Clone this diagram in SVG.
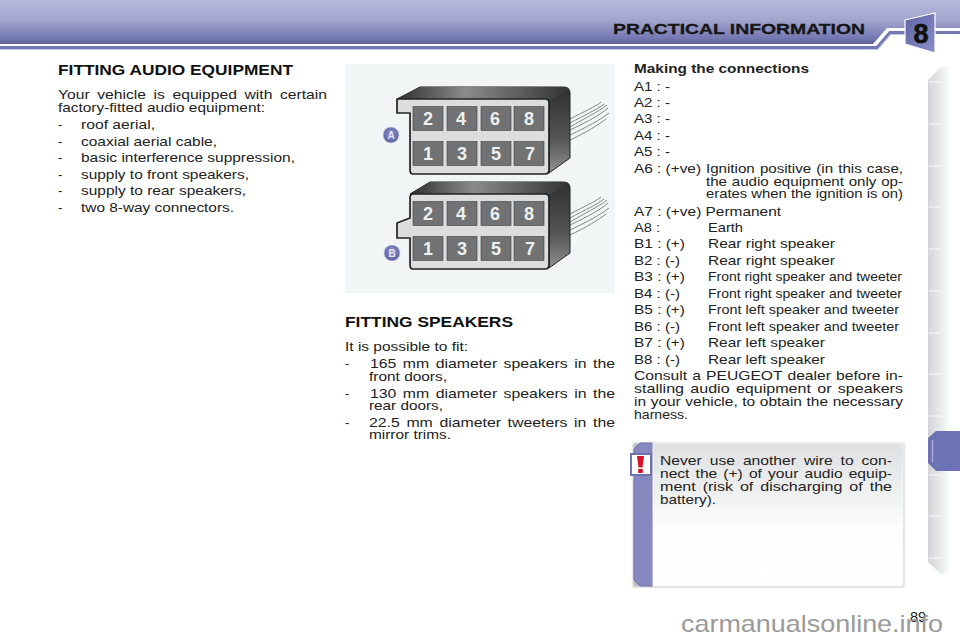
<svg xmlns="http://www.w3.org/2000/svg" width="960" height="640" viewBox="0 0 960 640">
<defs>
<linearGradient id="hdr" gradientUnits="userSpaceOnUse" x1="0" y1="0" x2="0" y2="45"><stop offset="0" stop-color="#b6b9dc"/><stop offset=".45" stop-color="#a2a5cd"/><stop offset=".85" stop-color="#7478b2"/><stop offset="1" stop-color="#5c6098"/></linearGradient>
<linearGradient id="eight" x1="0" y1="0" x2="1" y2="1"><stop offset="0" stop-color="#5f64a6"/><stop offset="1" stop-color="#8a8ec6"/></linearGradient>
<linearGradient id="tab" x1="0" y1="0" x2="1" y2="0"><stop offset="0" stop-color="#d2d4d6"/><stop offset=".35" stop-color="#e6e7e8"/><stop offset=".7" stop-color="#ffffff"/></linearGradient>
<linearGradient id="note" x1="0" y1="0" x2="0" y2="1"><stop offset="0" stop-color="#dfe0e2"/><stop offset=".35" stop-color="#eff0f0"/><stop offset=".6" stop-color="#fdfdfd"/><stop offset="1" stop-color="#ffffff"/></linearGradient>
<linearGradient id="top" x1="0" y1="0" x2="1" y2="0"><stop offset="0" stop-color="#2e2e2e"/><stop offset=".4" stop-color="#8a8c8c"/><stop offset="1" stop-color="#333"/></linearGradient>
<linearGradient id="side" x1="0" y1="0" x2="0" y2="1"><stop offset="0" stop-color="#2f2f2f"/><stop offset=".6" stop-color="#555"/><stop offset="1" stop-color="#8f9090"/></linearGradient>
<radialGradient id="ball" cx=".5" cy=".4" r=".6"><stop offset="0" stop-color="#8a8ec6"/><stop offset="1" stop-color="#5d62a4"/></radialGradient>
<filter id="soft" x="-10%" y="-10%" width="120%" height="120%"><feGaussianBlur stdDeviation="1.2"/></filter>
<g id="pins">
<rect class="pin" x="0" y="0" width="30" height="24"/><rect class="pin" x="34" y="0" width="30" height="24"/><rect class="pin" x="68" y="0" width="30" height="24"/><rect class="pin" x="101" y="0" width="30" height="24"/>
<rect class="pin" x="0" y="35" width="30" height="24"/><rect class="pin" x="34" y="35" width="30" height="24"/><rect class="pin" x="68" y="35" width="30" height="24"/><rect class="pin" x="101" y="35" width="30" height="24"/>
<text class="d" x="15" y="18">2</text><text class="d" x="48" y="18">4</text><text class="d" x="82" y="18">6</text><text class="d" x="116" y="18">8</text>
<text class="d" x="15" y="53">1</text><text class="d" x="49" y="53">3</text><text class="d" x="83" y="53">5</text><text class="d" x="117" y="53">7</text>
</g>
</defs>
<style>
text{font-family:"Liberation Sans",Arial,Helvetica,sans-serif;fill:#1c1c1c}
.b{font-size:13px;fill:#222}
.h{font-size:15px;font-weight:700;fill:#111}
.d{font-size:18px;font-weight:700;fill:#eef0ee;text-anchor:middle}
.ball{font-size:10px;font-weight:700;text-anchor:middle;fill:#e4e6f6}
.pin{fill:#707273;stroke:#3c3f40;stroke-width:.6}
.body{fill:#dcdddf;stroke:#222;stroke-width:1.7;stroke-linejoin:round}
.wire{fill:none;stroke:#777a7a;stroke-width:.9}
.tick{stroke:#fafafa;stroke-width:1}
</style>

<rect width="960" height="640" fill="#fff"/>

<g id="header">
<path d="M0 0 H960 V28 H887 L873 44 H0 Z" fill="url(#hdr)"/>
<path d="M0 47.500 H877 L890 32.500 H960" stroke="#7377b4" stroke-width="3" fill="none"/>
<path d="M0 49.500 H878 L891 34.500 H905" stroke="#c3c5e2" stroke-width="1" fill="none"/>
<path d="M905 20 L935 13 L935 53 L905 44 Z" fill="url(#eight)" stroke="#fff" stroke-width="1.200"/>
<text x="613" y="34" font-size="15.500" font-weight="700" style="fill:#161616;stroke:#161616;stroke-width:.3" textLength="252" lengthAdjust="spacingAndGlyphs">PRACTICAL INFORMATION</text>
<text x="921" y="43" font-size="27" font-weight="700" text-anchor="middle" style="fill:#111;stroke:#111;stroke-width:.6">8</text>
</g>

<g id="side-tabs">
<path d="M960 67 L941 67 L928 80 L928 562 L941 574 L960 574 Z" fill="url(#tab)"/>
<path class="tick" d="M929 82H941M929 124H941M929 166H941M929 207H941M929 249H941M929 291H941M929 333H941M929 374H941M929 416H941M929 475H941M929 516H941M929 558H941"/>
<path d="M960 431 L936 431 L928 438 L928 463 L936 471 L960 471 Z" fill="#6d72b4"/>
<path d="M932.500 440 L932.500 462" stroke="#a6a9d6" stroke-width="1.500"/>
</g>

<g id="audio-text">
<text class="h" x="58" y="75" textLength="235" lengthAdjust="spacingAndGlyphs">FITTING AUDIO EQUIPMENT</text>
<text class="b" x="58" y="99" word-spacing="2.700" textLength="269" lengthAdjust="spacingAndGlyphs">Your vehicle is equipped with certain</text>
<text class="b" x="58" y="112" textLength="207" lengthAdjust="spacingAndGlyphs">factory-fitted audio equipment:</text>
<text class="b" x="58" y="129">-</text><text class="b" x="81" y="129" textLength="74" lengthAdjust="spacingAndGlyphs">roof aerial,</text>
<text class="b" x="58" y="146">-</text><text class="b" x="81" y="146" textLength="136" lengthAdjust="spacingAndGlyphs">coaxial aerial cable,</text>
<text class="b" x="58" y="162">-</text><text class="b" x="81" y="162" textLength="214" lengthAdjust="spacingAndGlyphs">basic interference suppression,</text>
<text class="b" x="58" y="179">-</text><text class="b" x="81" y="179" textLength="168" lengthAdjust="spacingAndGlyphs">supply to front speakers,</text>
<text class="b" x="58" y="195">-</text><text class="b" x="81" y="195" textLength="165" lengthAdjust="spacingAndGlyphs">supply to rear speakers,</text>
<text class="b" x="58" y="212">-</text><text class="b" x="81" y="212" textLength="153" lengthAdjust="spacingAndGlyphs">two 8-way connectors.</text>
</g>

<g id="connector-figure">
<rect x="345" y="64" width="270" height="229" fill="#f2f5f5"/>
<g id="connector-A">
<path class="wire" d="M570 119C585 111 595 107 601 102M570 123C585 115 596 110 604 104M570 127C585 118 598 112 607 105M570 130C587 122 600 115 608 108M570 135C587 127 600 120 609 113M570 140C587 132 598 125 606 119"/>
<path d="M397 99 L420 87 L563 87 Q570 87 570 93 L570 158 L549 173 L549 99 Z" fill="url(#side)" stroke="#222"/>
<path d="M397 99 L420 87 L563 87 Q570 87 568 90 L549 100 L397 100 Z" fill="url(#top)"/>
<path class="body" d="M397 99 L545 99 Q549 99 549 103 L549 170 Q549 174 545 174 L413 174 Q410 174 410 170 L410 113 L397 113 Z"/>
<use href="#pins" x="413" y="106.500"/>
<circle cx="391" cy="135" r="8" fill="url(#ball)" stroke="#c9cbe6" stroke-width=".8"/>
<text class="ball" x="391" y="139">A</text>
</g>
<g id="connector-B">
<path class="wire" d="M570 214C585 206 595 202 601 197M570 218C585 210 596 205 604 199M570 222C585 213 598 207 607 200M570 225C587 217 600 210 608 203M570 230C587 222 600 215 609 208M570 235C587 227 598 220 606 214"/>
<path d="M410 194 L430 182 L563 182 Q570 182 570 188 L570 253 L549 268 L549 194 Z" fill="url(#side)" stroke="#222"/>
<path d="M410 194 L430 182 L563 182 Q570 182 568 185 L549 195 L410 195 Z" fill="url(#top)"/>
<path class="body" d="M413 194 L545 194 Q549 194 549 198 L549 265 Q549 269 545 269 L413 269 Q410 269 410 265 L410 238 L397 238 L397 223 L410 218 L410 198 Q410 194 413 194 Z"/>
<use href="#pins" x="413" y="201.500"/>
<circle cx="392" cy="253" r="8" fill="url(#ball)" stroke="#c9cbe6" stroke-width=".8"/>
<text class="ball" x="392" y="257">B</text>
</g>
</g>

<g id="speakers-text">
<text class="h" x="345" y="327" textLength="168" lengthAdjust="spacingAndGlyphs">FITTING SPEAKERS</text>
<text class="b" x="345" y="351" textLength="123" lengthAdjust="spacingAndGlyphs">It is possible to fit:</text>
<text class="b" x="345" y="368">-</text><text class="b" x="370" y="368" word-spacing="1.700" textLength="245" lengthAdjust="spacingAndGlyphs">165 mm diameter speakers in the</text>
<text class="b" x="369" y="381" textLength="78" lengthAdjust="spacingAndGlyphs">front doors,</text>
<text class="b" x="345" y="398">-</text><text class="b" x="370" y="398" word-spacing="1.700" textLength="245" lengthAdjust="spacingAndGlyphs">130 mm diameter speakers in the</text>
<text class="b" x="369" y="410" textLength="74" lengthAdjust="spacingAndGlyphs">rear doors,</text>
<text class="b" x="345" y="427">-</text><text class="b" x="369" y="427" word-spacing="1.800" textLength="246" lengthAdjust="spacingAndGlyphs">22.5 mm diameter tweeters in the</text>
<text class="b" x="369" y="439" textLength="82" lengthAdjust="spacingAndGlyphs">mirror trims.</text>
</g>

<g id="connections-text">
<text class="b" x="634" y="73" font-weight="700" textLength="175" lengthAdjust="spacingAndGlyphs">Making the connections</text>
<text class="b" x="634" y="91" textLength="36" lengthAdjust="spacingAndGlyphs">A1 : -</text>
<text class="b" x="634" y="107" textLength="36" lengthAdjust="spacingAndGlyphs">A2 : -</text>
<text class="b" x="634" y="123" textLength="36" lengthAdjust="spacingAndGlyphs">A3 : -</text>
<text class="b" x="634" y="140" textLength="36" lengthAdjust="spacingAndGlyphs">A4 : -</text>
<text class="b" x="634" y="156" textLength="36" lengthAdjust="spacingAndGlyphs">A5 : -</text>
<text class="b" x="634" y="173" textLength="67" lengthAdjust="spacingAndGlyphs">A6 : (+ve)</text><text class="b" x="706" y="173" word-spacing=".800" textLength="197" lengthAdjust="spacingAndGlyphs">Ignition positive (in this case,</text>
<text class="b" x="706" y="186" word-spacing=".500" textLength="197" lengthAdjust="spacingAndGlyphs">the audio equipment only op-</text>
<text class="b" x="706" y="198" textLength="197" lengthAdjust="spacingAndGlyphs">erates when the ignition is on)</text>
<text class="b" x="634" y="216" textLength="147" lengthAdjust="spacingAndGlyphs">A7 : (+ve) Permanent</text>
<text class="b" x="634" y="232" textLength="26" lengthAdjust="spacingAndGlyphs">A8 :</text><text class="b" x="708" y="232" textLength="35" lengthAdjust="spacingAndGlyphs">Earth</text>
<text class="b" x="634" y="248" textLength="51" lengthAdjust="spacingAndGlyphs">B1 : (+)</text><text class="b" x="708" y="248" textLength="127" lengthAdjust="spacingAndGlyphs">Rear right speaker</text>
<text class="b" x="634" y="265" textLength="46" lengthAdjust="spacingAndGlyphs">B2 : (-)</text><text class="b" x="708" y="265" textLength="127" lengthAdjust="spacingAndGlyphs">Rear right speaker</text>
<text class="b" x="634" y="281" textLength="51" lengthAdjust="spacingAndGlyphs">B3 : (+)</text><text class="b" x="708" y="281" textLength="194" lengthAdjust="spacingAndGlyphs">Front right speaker and tweeter</text>
<text class="b" x="634" y="298" textLength="46" lengthAdjust="spacingAndGlyphs">B4 : (-)</text><text class="b" x="708" y="298" textLength="194" lengthAdjust="spacingAndGlyphs">Front right speaker and tweeter</text>
<text class="b" x="634" y="314" textLength="51" lengthAdjust="spacingAndGlyphs">B5 : (+)</text><text class="b" x="708" y="314" textLength="191" lengthAdjust="spacingAndGlyphs">Front left speaker and tweeter</text>
<text class="b" x="634" y="331" textLength="46" lengthAdjust="spacingAndGlyphs">B6 : (-)</text><text class="b" x="708" y="331" textLength="191" lengthAdjust="spacingAndGlyphs">Front left speaker and tweeter</text>
<text class="b" x="634" y="347" textLength="51" lengthAdjust="spacingAndGlyphs">B7 : (+)</text><text class="b" x="708" y="347" textLength="117" lengthAdjust="spacingAndGlyphs">Rear left speaker</text>
<text class="b" x="634" y="364" textLength="46" lengthAdjust="spacingAndGlyphs">B8 : (-)</text><text class="b" x="708" y="364" textLength="117" lengthAdjust="spacingAndGlyphs">Rear left speaker</text>
<text class="b" x="634" y="380" word-spacing=".700" textLength="269" lengthAdjust="spacingAndGlyphs">Consult a PEUGEOT dealer before in-</text>
<text class="b" x="634" y="393" word-spacing="1.500" textLength="269" lengthAdjust="spacingAndGlyphs">stalling audio equipment or speakers</text>
<text class="b" x="634" y="406" word-spacing=".300" textLength="269" lengthAdjust="spacingAndGlyphs">in your vehicle, to obtain the necessary</text>
<text class="b" x="634" y="419" textLength="54" lengthAdjust="spacingAndGlyphs">harness.</text>
</g>

<g id="warning-note">
<rect x="633" y="443" width="271" height="144" fill="#bbb" filter="url(#soft)"/>
<path d="M653 443 L640 443 L634 449 L634 580 L640 586 L653 586 Z" fill="#8589c0" stroke="#6f74b0"/>
<rect x="653" y="443" width="250" height="143" fill="url(#note)" stroke="#f8f8f8"/>
<text class="b" x="660" y="465" word-spacing="3" textLength="232" lengthAdjust="spacingAndGlyphs">Never use another wire to con-</text>
<text class="b" x="660" y="478" word-spacing="1.500" textLength="232" lengthAdjust="spacingAndGlyphs">nect the (+) of your audio equip-</text>
<text class="b" x="660" y="491" word-spacing="2" textLength="232" lengthAdjust="spacingAndGlyphs">ment (risk of discharging of the</text>
<text class="b" x="660" y="504" textLength="56" lengthAdjust="spacingAndGlyphs">battery).</text>
<rect x="631" y="454" width="20" height="21" fill="#fff" stroke="#6f74b0" stroke-width="2"/>
<path d="M637 456 L644 456 L642.500 467.500 L638.500 467.500 Z" fill="#d8132a"/>
<rect x="638.200" y="469" width="4.600" height="4" fill="#d8132a"/>
</g>

<g id="footer">
<text x="910" y="622" font-size="14.500" style="fill:#222">89</text>
<text x="681" y="632" font-size="24" textLength="262" lengthAdjust="spacingAndGlyphs" style="fill:#9a9a9a">carmanualsonline.info</text>
</g>
</svg>
